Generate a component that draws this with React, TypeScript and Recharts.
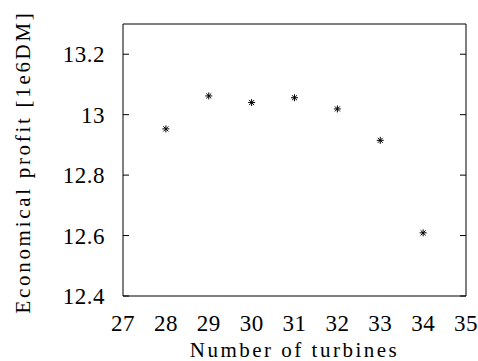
import { Scatter, ScatterChart, XAxis, YAxis } from "recharts";

const turbines = [28, 29, 30, 31, 32, 33, 34];
const profit = [12.953, 13.062, 13.04, 13.056, 13.019, 12.915, 12.609];
const xTicks = [27, 28, 29, 30, 31, 32, 33, 34, 35];
const yTicks = [12.4, 12.6, 12.8, 13, 13.2];

const data = turbines.map((n, i) => ({ n, p: profit[i] }));

const FONT = "Liberation Serif, Times New Roman, DejaVu Serif, serif";
const noLabel = () => <g />;

function Asterisk({ cx, cy }: { cx?: number; cy?: number }) {
  // gnuplot-style "*" marker: a plus laid over a cross
  if (cx == null || cy == null) return null;
  const r = 3.5;
  const d = r * 0.72;
  return (
    <g stroke="#000" strokeWidth={1}>
      <line x1={cx - r} y1={cy} x2={cx + r} y2={cy} />
      <line x1={cx} y1={cy - r} x2={cx} y2={cy + r} />
      <line x1={cx - d} y1={cy - d} x2={cx + d} y2={cy + d} />
      <line x1={cx - d} y1={cy + d} x2={cx + d} y2={cy - d} />
    </g>
  );
}

export default function App() {
  const tickStyle = { fill: "#000", fontSize: 23, style: { fontFamily: FONT }, letterSpacing: 0.5 };
  return (
    <div style={{ position: "absolute", left: 0, top: 0, background: "#fff", fontFamily: FONT }}>
      <ScatterChart width={478} height={361} margin={{ top: 24, right: 12, left: 0, bottom: 0 }}>
        <XAxis
          dataKey="n"
          type="number"
          domain={[27, 35]}
          ticks={xTicks}
          allowDataOverflow
          height={65}
          tickLine={false}
          tickSize={0}
          tickMargin={19}
          axisLine={{ stroke: "#000" }}
          tick={tickStyle}
          label={{
            content: ({ viewBox }: any) => (
              <text
                x={viewBox.x + viewBox.width / 2}
                y={viewBox.y + 61}
                textAnchor="middle"
                style={{ fontFamily: FONT }}
                fontSize={21}
                letterSpacing={2.5}
                fill="#000"
              >
                Number of turbines
              </text>
            ),
          }}
        />
        <XAxis xAxisId="bm" type="number" domain={[27, 35]} ticks={xTicks} allowDataOverflow
          orientation="bottom" mirror axisLine={false} tickSize={6} tickLine={{ stroke: "#000" }} tick={noLabel} />
        <XAxis xAxisId="tm" type="number" domain={[27, 35]} ticks={xTicks} allowDataOverflow
          orientation="top" mirror axisLine={{ stroke: "#000" }} tickSize={6} tickLine={{ stroke: "#000" }} tick={noLabel} />
        <YAxis
          dataKey="p"
          type="number"
          domain={[12.4, 13.3]}
          ticks={yTicks}
          allowDataOverflow
          width={123}
          tickLine={false}
          tickSize={0}
          tickMargin={18}
          axisLine={{ stroke: "#000" }}
          tick={tickStyle}
          label={{
            content: ({ viewBox }: any) => {
              const x = viewBox.x + 30;
              const y = viewBox.y + viewBox.height / 2 + 2;
              return (
                <text
                  x={x}
                  y={y}
                  transform={`rotate(-90 ${x} ${y})`}
                  textAnchor="middle"
                  style={{ fontFamily: FONT }}
                  fontSize={21}
                  letterSpacing={2.7}
                  fill="#000"
                >
                  Economical profit [1e6DM]
                </text>
              );
            },
          }}
        />
        <YAxis yAxisId="lm" type="number" domain={[12.4, 13.3]} ticks={yTicks} allowDataOverflow
          orientation="left" mirror axisLine={false} tickSize={6} tickLine={{ stroke: "#000" }} tick={noLabel} />
        <YAxis yAxisId="rm" type="number" domain={[12.4, 13.3]} ticks={yTicks} allowDataOverflow
          orientation="right" mirror axisLine={{ stroke: "#000" }} tickSize={6} tickLine={{ stroke: "#000" }} tick={noLabel} />
        <Scatter data={data} shape={<Asterisk />} isAnimationActive={false} />
      </ScatterChart>
    </div>
  );
}
